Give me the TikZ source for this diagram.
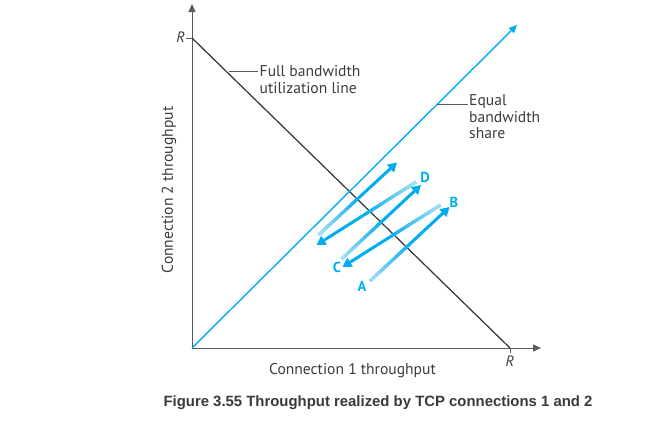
\documentclass[tikz,border=0pt]{standalone}
\usepackage{fontspec}
\setmainfont{PT Sans}
\setsansfont{PT Sans}
\newfontfamily\capfont{Liberation Sans}
\usetikzlibrary{arrows.meta,calc}
\definecolor{tcyan}{HTML}{00AEEF}
\definecolor{lcyan}{HTML}{A8E0F7}
\definecolor{axisgray}{HTML}{5A5A5A}
\definecolor{linedark}{HTML}{333333}
\definecolor{capgray}{HTML}{3A3A3A}
\definecolor{txtgray}{HTML}{3C3C3C}
\tikzset{
  axisline/.style={draw=axisgray, line width=1pt},
  axistip/.style={-{Triangle[length=8pt,width=7pt]}},
  fullline/.style={draw=linedark, line width=1.2pt},
  eqline/.style={draw=tcyan, line width=1.4pt, -{Triangle[length=8pt,width=7pt]}},
  leader/.style={draw=axisgray, line width=0.8pt},
  lbl/.style={font=\fontsize{15.6}{16.5}\selectfont, text=txtgray, inner sep=0pt, align=left},
  rlbl/.style={font=\fontsize{15}{16.5}\selectfont\itshape, text=txtgray, inner sep=0pt},
  ptlbl/.style={font=\fontsize{14.5}{15}\selectfont\bfseries, text=tcyan, inner sep=0pt},
  thickarrow/.style={draw=tcyan, line width=3pt, -{Triangle[length=9pt,width=10pt]}},
  caption/.style={font=\capfont\bfseries\fontsize{14.9}{17}\selectfont, text=capgray, inner sep=0pt}
}
\newcommand\gradarrow[2]{%
  \draw[thickarrow] (#1) -- (#2);
  \foreach \k in {0,...,13}{%
    \pgfmathsetmacro\fa{\k/28}%
    \pgfmathsetmacro\fb{(\k+1)/28+0.005}%
    \pgfmathtruncatemacro\mm{100*\k/14}%
    \draw[line width=3pt, draw=tcyan!\mm!lcyan] ($(#1)!\fa!(#2)$) -- ($(#1)!\fb!(#2)$);
  }%
}
\begin{document}
\begin{tikzpicture}[x=1pt,y=-1pt]
\useasboundingbox (0,0) rectangle (663,431);
% axes
\coordinate (O) at (192,348);
\coordinate (ytop) at (192,4);
\coordinate (xend) at (541,348);
\coordinate (Ry) at (192,38);
\coordinate (Rx) at (510,348);
\coordinate (Ryt) at (186,38);
\coordinate (Rxt) at (510,353);
\coordinate (eqend) at (517,25);
\draw[axisline, axistip] (O) -- (ytop);
\draw[axisline, axistip] (O) -- (xend);
\draw[axisline] (Ry) -- (Ryt);
\draw[axisline] (Rx) -- (Rxt);
\node[rlbl, anchor=east] (RyL) at (185,37) {R};
\node[rlbl, anchor=north] (RxL) at (510,355.5) {R};
% full bandwidth line
\draw[fullline] (Ry) -- (Rx);
% equal share
\draw[eqline] (O) -- (eqend);
% leaders
\coordinate (fl1) at (228.5,71.5);
\coordinate (fl2) at (258,71.5);
\draw[leader] (fl1) -- (fl2);
\node[lbl, anchor=west] (fullT) at (259.5,79.5) {Full bandwidth\\utilization line};
\coordinate (el1) at (436.5,104);
\coordinate (el2) at (467.5,104);
\draw[leader] (el1) -- (el2);
\node[lbl, anchor=north west] (eqT) at (469,94.5) {Equal\\bandwidth\\share};
% axis labels
\node[lbl] (xlab) at (352.5,371) {Connection 1 throughput};
\node[lbl, rotate=90] (ylab) at (169,190) {Connection 2 throughput};
% trajectory
\coordinate (a0) at (370,281);
\coordinate (a1) at (449.5,207);
\coordinate (b0) at (440.5,205);
\coordinate (b1) at (342.5,267);
\coordinate (c0) at (341.5,259);
\coordinate (c1) at (421,185);
\coordinate (d0) at (416,182);
\coordinate (d1) at (316.5,245);
\coordinate (e0) at (318.5,235);
\coordinate (e1) at (397,162.5);
\gradarrow{a0}{a1}
\gradarrow{b0}{b1}
\gradarrow{c0}{c1}
\gradarrow{d0}{d1}
\gradarrow{e0}{e1}
\node[ptlbl] (A) at (362,286) {A};
\node[ptlbl] (B) at (454,202) {B};
\node[ptlbl] (C) at (337,267.5) {C};
\node[ptlbl] (D) at (425,177) {D};
% caption
\node[caption] (cap) at (378,403) {Figure 3.55 Throughput realized by TCP connections 1 and 2};
\end{tikzpicture}
\end{document}
